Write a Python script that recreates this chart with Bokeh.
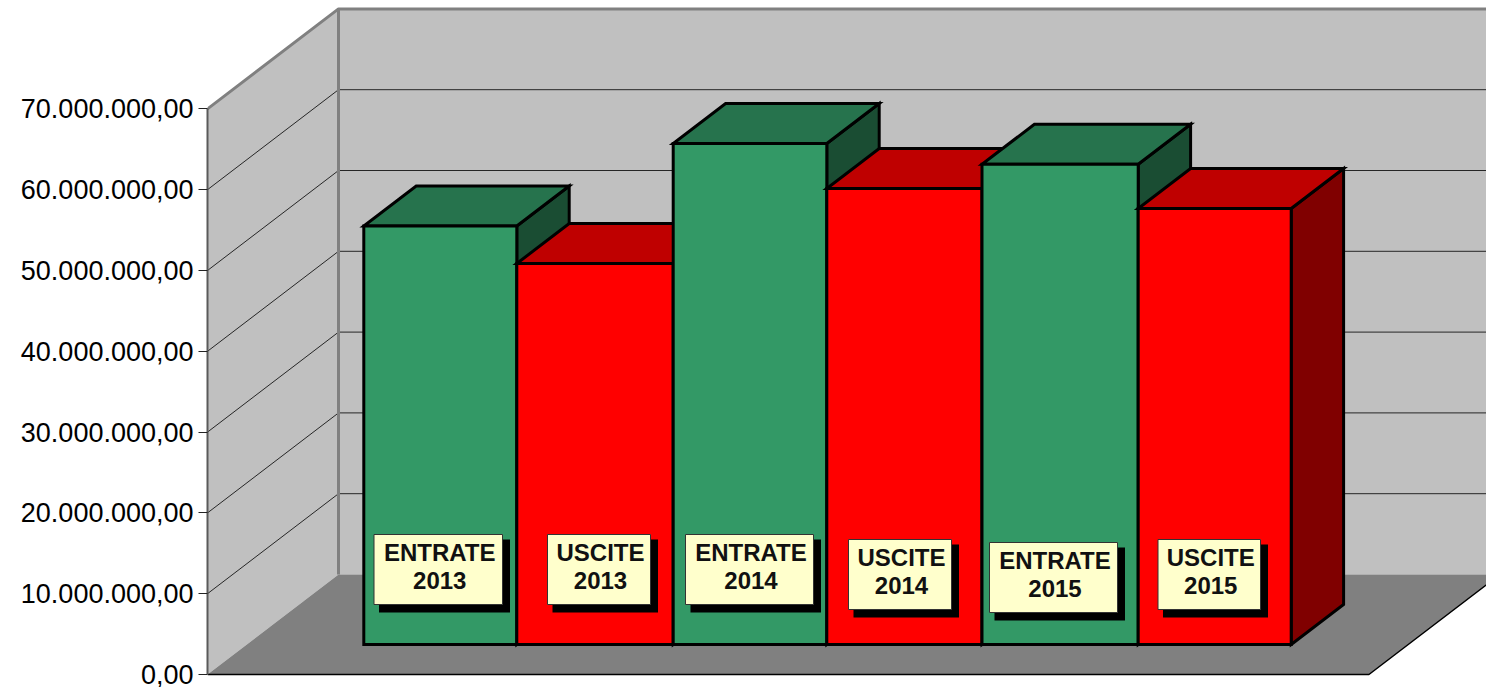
from bokeh.plotting import figure
from bokeh.models import FixedTicker, Range1d, CustomJSTickFormatter
from bokeh.core.properties import value
from bokeh.embed import file_html
from bokeh.resources import INLINE

# ---- data ----
series = ["ENTRATE", "USCITE", "ENTRATE", "USCITE", "ENTRATE", "USCITE"]
years = ["2013", "2013", "2014", "2014", "2015", "2015"]
amounts = [51800000, 47150000, 62000000, 56440000, 59440000, 53960000]
ticks = [0, 10000000, 20000000, 30000000, 40000000, 50000000, 60000000, 70000000]
tick_labels = ["0,00", "10.000.000,00", "20.000.000,00", "30.000.000,00",
               "40.000.000,00", "50.000.000,00", "60.000.000,00", "70.000.000,00"]

# ---- styles ----
palette = {"ENTRATE": ("#339966", "#26734D", "#1A4D33"),
           "USCITE": ("#FF0000", "#BF0000", "#800000")}
WALL, FLOOR, EDGE = "#C0C0C0", "#808080", "#808080"

# ---- layout (page pixels) ----
W, H = 1486, 687
LEFT = 207
PAGE_X0, PAGE_Y0 = 207.0, 674.0      # where the value axis meets the floor
FRAME_BOTTOM = 680
BOTTOM = H - FRAME_BOTTOM
BAR_PX = 154.57                      # width of one bar
UNIT_PX = 80.8                       # pixels for 10 million
DEPTH_DX, DEPTH_DY = 131.0, 100.0    # projection of the full chart depth
BAR_D0, BAR_D1 = 0.30, 0.70          # bars occupy this depth range
GAP = 0.757                          # side gap in bar widths
FLOOR_W = GAP * 2 + len(amounts)
bar_edges_px = [363.3, 516.3, 672.7, 826.3, 981.5, 1137.7, 1290.7]


def X(u, d=0.0):
    return u + d * DEPTH_DX / BAR_PX


def Y(v, d=0.0):
    return v + d * DEPTH_DY / UNIT_PX * 1e7


def px_x(px):
    return (px - PAGE_X0) / BAR_PX


def px_y(py):
    return (PAGE_Y0 - py) / UNIT_PX * 1e7


p = figure(width=W, height=H, output_backend="svg", toolbar_location=None,
           x_range=Range1d(0, (W - LEFT) / BAR_PX),
           y_range=Range1d(px_y(FRAME_BOTTOM), px_y(0)),
           min_border_left=LEFT, min_border_right=0, min_border_top=0,
           min_border_bottom=BOTTOM, x_axis_location=None)
p.outline_line_color = None
p.grid.visible = False
p.background_fill_color = "white"
p.border_fill_color = "white"

ymax = ticks[-1]

# walls and floor
far = FLOOR_W
p.patch([X(0), X(0, 1), X(0, 1), X(0)], [Y(0), Y(0, 1), Y(ymax, 1), Y(ymax)],
        fill_color=WALL, line_color=None)
p.patch([X(0, 1), X(far, 1), X(far, 1), X(0, 1)], [Y(0, 1), Y(0, 1), Y(ymax, 1), Y(ymax, 1)],
        fill_color=WALL, line_color=None)
p.patch([X(0), X(0, 1), X(far, 1), X(far)], [Y(0), Y(0, 1), Y(0, 1), Y(0)],
        fill_color=FLOOR, line_color=None)

# grid lines
for t in ticks[1:-1]:
    p.line([X(0), X(0, 1), X(far + 1, 1)], [Y(t), Y(t, 1), Y(t, 1)],
           line_color="#262626", line_width=1)

# wall edges
p.line([X(0), X(0, 1), X(far + 1, 1)], [Y(ymax), Y(ymax, 1), Y(ymax, 1)],
       line_color=EDGE, line_width=3)
p.line([X(0, 1), X(0, 1)], [Y(0, 1), Y(ymax, 1)], line_color=EDGE, line_width=3)

# floor front edges
p.line([X(0), X(far), X(far, 1)], [Y(0), Y(0), Y(0, 1)],
       line_color="black", line_width=1.5)

# bars
for i, (s, v) in enumerate(zip(series, amounts)):
    front, top, side = palette[s]
    u0, u1 = px_x(bar_edges_px[i]) - BAR_D0 * DEPTH_DX / BAR_PX, px_x(bar_edges_px[i + 1]) - BAR_D0 * DEPTH_DX / BAR_PX
    kw = dict(line_color="black", line_width=3, line_join="miter")
    p.patch([X(u1, BAR_D0), X(u1, BAR_D1), X(u1, BAR_D1), X(u1, BAR_D0)],
            [Y(0, BAR_D0), Y(0, BAR_D1), Y(v, BAR_D1), Y(v, BAR_D0)],
            fill_color=side, **kw)
    p.patch([X(u0, BAR_D0), X(u1, BAR_D0), X(u1, BAR_D1), X(u0, BAR_D1)],
            [Y(v, BAR_D0), Y(v, BAR_D0), Y(v, BAR_D1), Y(v, BAR_D1)],
            fill_color=top, **kw)
    p.patch([X(u0, BAR_D0), X(u1, BAR_D0), X(u1, BAR_D0), X(u0, BAR_D0)],
            [Y(0, BAR_D0), Y(0, BAR_D0), Y(v, BAR_D0), Y(v, BAR_D0)],
            fill_color=front, **kw)

# callouts (page pixels: left, right, top)
box_left = [373.5, 547, 685, 848, 989, 1157.5]
box_right = [502, 650, 813, 951, 1117, 1260]
box_top = [534, 534, 534, 539, 542, 539]
BOX_H = 70

for i in range(len(series)):
    l, r, t = box_left[i], box_right[i], box_top[i]
    p.quad(left=[px_x(l + 5)], right=[px_x(r + 7.5)],
           top=[px_y(t + 5)], bottom=[px_y(t + BOX_H + 8)],
           fill_color="black", line_color=None)
    p.quad(left=[px_x(l)], right=[px_x(r)], top=[px_y(t)], bottom=[px_y(t + BOX_H)],
           fill_color="#FFFFCC", line_color="#333333", line_width=1)
    cx = (l + r) / 2 + 1.5
    for txt, off in ((series[i], 18), (years[i], 45.5)):
        p.text([px_x(cx)], [px_y(t + off)], text=[txt],
               text_font=value("Liberation Sans"), text_font_style="bold",
               text_font_size="24px", text_color="#111111",
               text_align="center", text_baseline="middle")

# value axis
ax = p.yaxis[0]
ax.ticker = FixedTicker(ticks=ticks)
ax.formatter = CustomJSTickFormatter(args=dict(tick_values=ticks, tick_texts=tick_labels),
                                     code="return tick_texts[tick_values.indexOf(tick)]")
ax.bounds = (0, ymax)
ax.major_label_text_font = "Liberation Sans"
ax.major_label_text_font_size = "27px"
ax.major_label_text_color = "#000000"
ax.major_label_standoff = 5
ax.axis_line_color = "#5A5A5A"
ax.axis_line_width = 2
ax.major_tick_line_color = "#222222"
ax.major_tick_line_width = 1
ax.major_tick_in = 0
ax.major_tick_out = 9
ax.minor_tick_line_color = None

open("out.html", "w").write(file_html(p, INLINE))
